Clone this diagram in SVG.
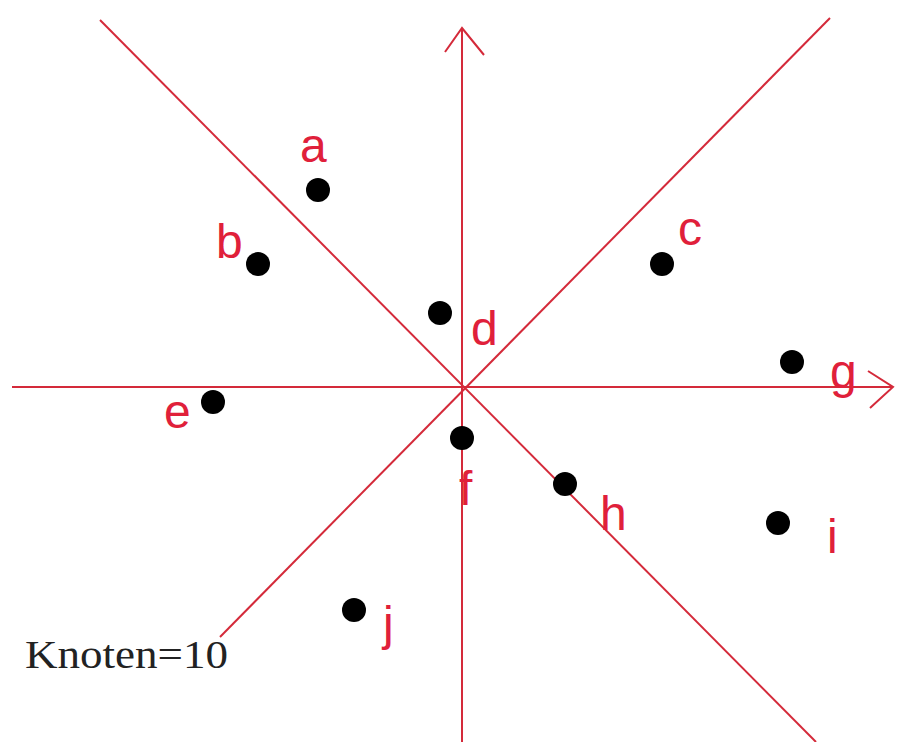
<svg xmlns="http://www.w3.org/2000/svg" width="901" height="742" viewBox="0 0 901 742">
<style>
.ax{stroke:#d42a3a;stroke-width:2;fill:none}
.dot{fill:#000}
.lb{fill:#e0203a;font-family:"Liberation Sans",Arial,sans-serif;font-size:48px}
.kn{fill:#222;font-family:"Liberation Serif","Times New Roman",serif;font-size:40px}
</style>
<rect width="901" height="742" fill="#fff"/>
<g id="connectors">
<line class="ax" x1="462" y1="28" x2="462" y2="742"/>
<polyline class="ax" points="445,52 462,28 484,55"/>
<line class="ax" x1="12" y1="387" x2="893" y2="387"/>
<polyline class="ax" points="868,371 893,387 870,408"/>
<line class="ax" x1="100" y1="20" x2="816" y2="742"/>
<line class="ax" x1="830" y1="18" x2="220" y2="637"/>
</g>
<g id="a"><circle class="dot" cx="318" cy="190" r="12"/><text class="lb" x="300" y="162">a</text></g>
<g id="b"><circle class="dot" cx="258" cy="264" r="12"/><text class="lb" x="216" y="258">b</text></g>
<g id="c"><circle class="dot" cx="662" cy="264" r="12"/><text class="lb" x="678" y="245">c</text></g>
<g id="d"><circle class="dot" cx="440" cy="313" r="12"/><text class="lb" x="471" y="345">d</text></g>
<g id="e"><circle class="dot" cx="213" cy="402" r="12"/><text class="lb" x="164" y="428">e</text></g>
<g id="f"><circle class="dot" cx="462" cy="438" r="12"/><text class="lb" x="459" y="505">f</text></g>
<g id="g"><circle class="dot" cx="792" cy="362" r="12"/><text class="lb" x="830" y="388">g</text></g>
<g id="h"><circle class="dot" cx="565" cy="484" r="12"/><text class="lb" x="600" y="530">h</text></g>
<g id="i"><circle class="dot" cx="778" cy="523" r="12"/><text class="lb" x="827" y="553">i</text></g>
<g id="j"><circle class="dot" cx="354" cy="610" r="12"/><text class="lb" x="383" y="640">j</text></g>
<g id="knoten"><text class="kn" x="25" y="668" textLength="203" lengthAdjust="spacingAndGlyphs">Knoten=10</text></g>
</svg>
